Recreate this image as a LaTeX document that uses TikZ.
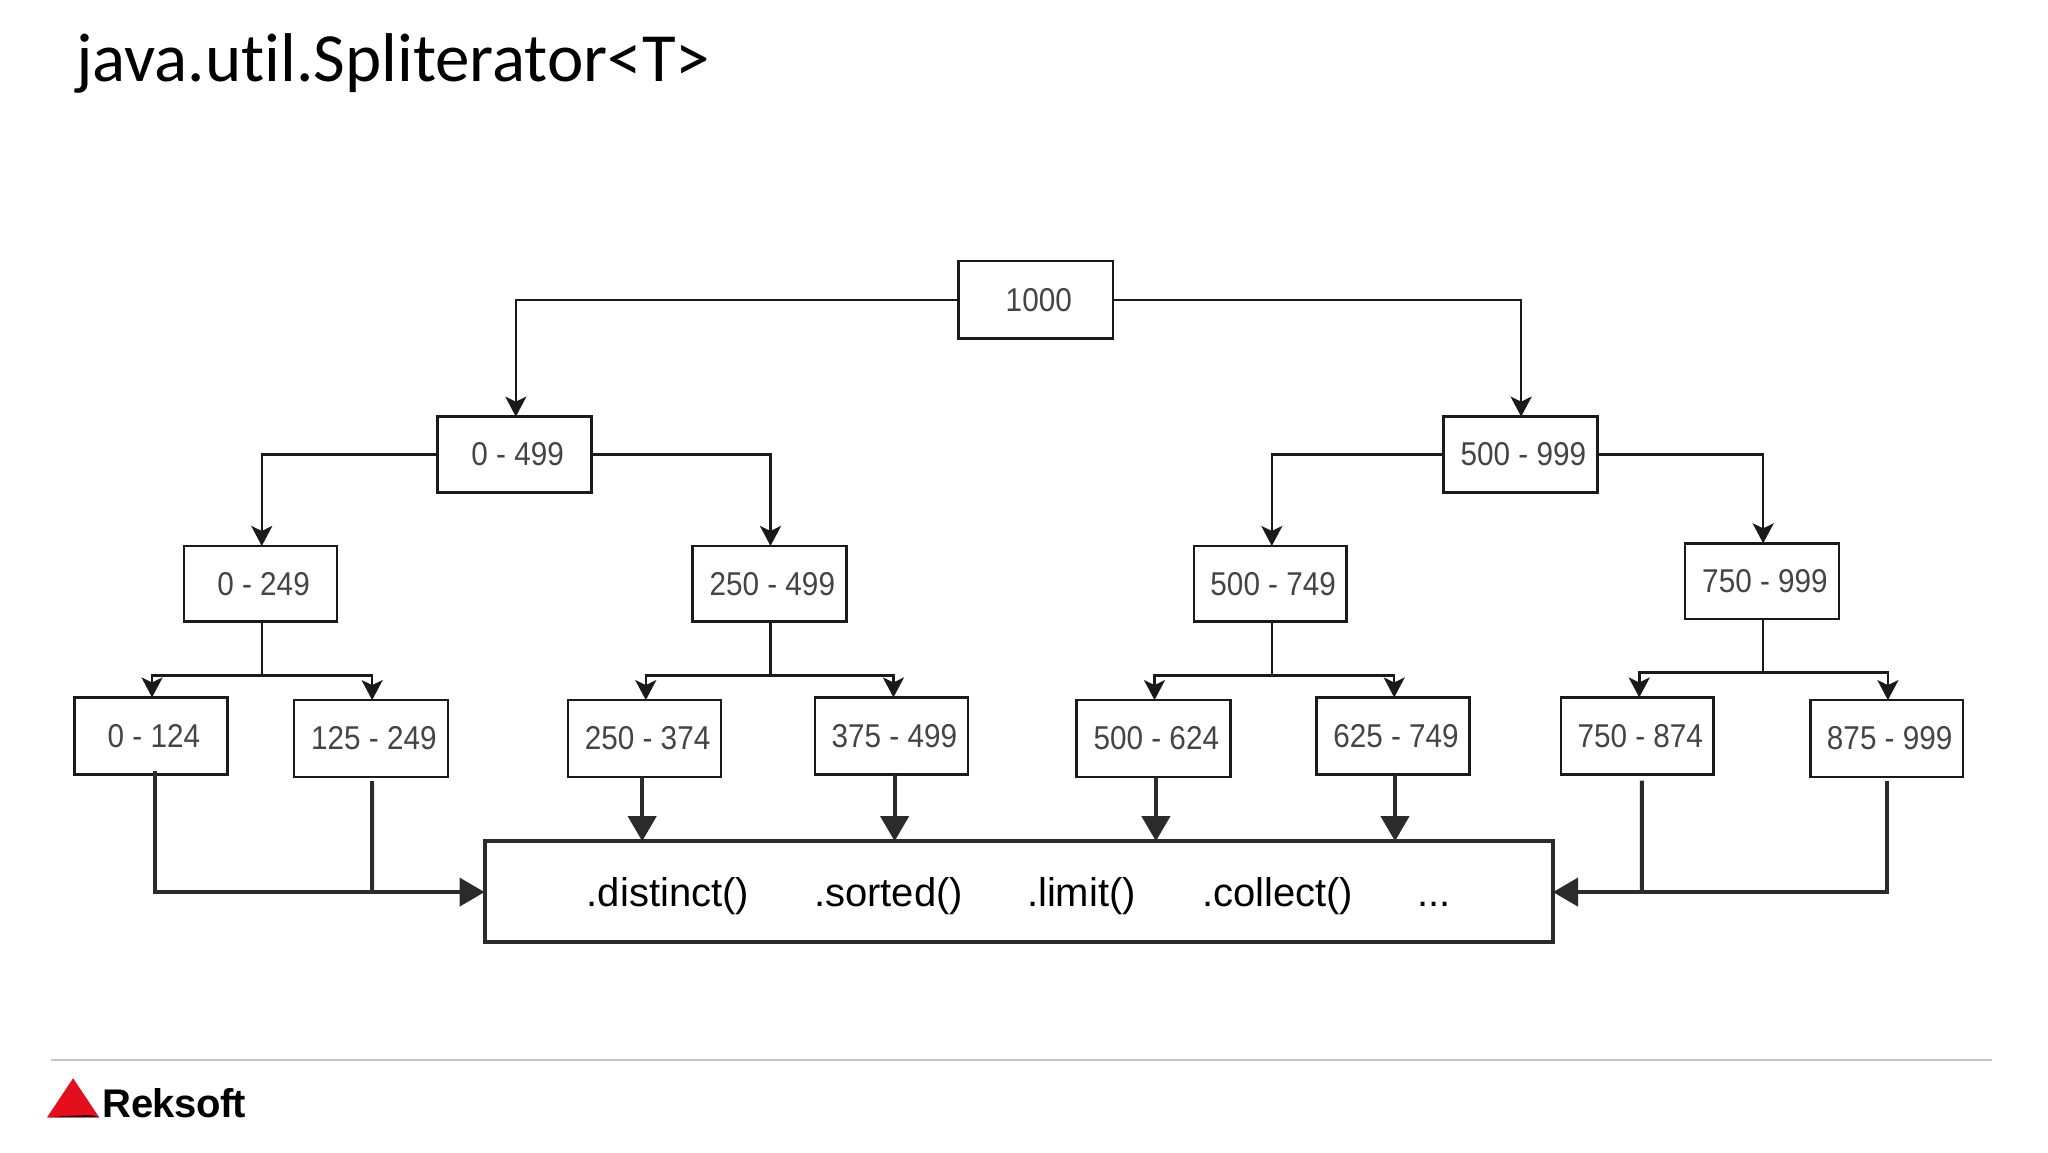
\documentclass[tikz,border=0pt]{standalone}
\usepackage{fontspec}
\setmainfont{Liberation Sans}
\newfontfamily\titlefont[Ligatures=NoCommon]{Carlito}
\newfontfamily\labfont[FakeStretch=0.9]{Liberation Sans}
\newfontfamily\logofont[LetterSpace=-1.5]{Liberation Sans Bold}
\usetikzlibrary{arrows.meta,positioning,calc}
\definecolor{inkthin}{HTML}{1A1A1A}
\definecolor{inkthick}{HTML}{2B2B2B}
\definecolor{labelgray}{HTML}{444444}
\definecolor{rulegray}{HTML}{C4C4C4}
\definecolor{logored}{HTML}{E30F1E}
\def\un{0.65306pt}
\tikzset{
  x=\un, y=-\un,
  rangebox/.style={draw=inkthin,line width=1.25pt,fill=white,inner sep=0pt,outer sep=0pt,
    font=\labfont\fontsize{16.5}{20}\selectfont,text=labelgray},
  thinconn/.style={draw=inkthin,line width=1.25pt,-{Stealth[length=10pt,width=10.5pt,inset=2.5pt]}},
  thinline/.style={draw=inkthin,line width=1.25pt},
  thickconn/.style={draw=inkthick,line width=2pt,-{Triangle[length=12.5pt,width=14pt]}},
  thickline/.style={draw=inkthick,line width=2pt},
  opbox/.style={draw=inkthick,line width=2pt,fill=white,inner sep=0pt,outer sep=0pt},
  optext/.style={anchor=base west,inner sep=0pt,font=\fontsize{20}{24}\selectfont,text=black},
}
\newcommand{\bx}[6]{\node[rangebox,minimum width={(#4-#2)*0.65306pt},minimum height={(#5-#3)*0.65306pt}] (#1) at ({(#2+#4)/2},{(#3+#5)/2}) {\hspace{3pt}\raisebox{-0.6pt}{#6}};}
\begin{document}
\begin{tikzpicture}
\path[fill=white,use as bounding box] (0,0) rectangle (1568,882);
\node[anchor=base west,inner sep=0pt,font=\titlefont\fontsize{34.5}{40}\selectfont,text=black] (title) at (58,62.5) {java.util.Spliterator<T>};

\bx{r}{734}{200}{852}{259}{1000}
\bx{a}{335}{319}{453}{377}{0 - 499}
\bx{b}{1105}{319}{1223}{377}{500 - 999}
\bx{aa}{141}{418}{258}{476}{0 - 249}
\bx{ab}{530}{418}{648}{476}{250 - 499}
\bx{ba}{914}{418}{1031}{476}{500 - 749}
\bx{bb}{1290}{416}{1408}{474}{750 - 999}
\bx{aaa}{57}{534}{174}{593}{0 - 124}
\bx{aab}{225}{536}{343}{595}{125 - 249}
\bx{aba}{435}{536}{552}{595}{250 - 374}
\bx{abb}{624}{534}{741}{593}{375 - 499}
\bx{baa}{824}{536}{942}{595}{500 - 624}
\bx{bab}{1008}{534}{1125}{593}{625 - 749}
\bx{bba}{1195}{534}{1312}{593}{750 - 874}
\bx{bbb}{1386}{536}{1503}{595}{875 - 999}
\node[opbox,minimum width={818*0.65306pt},minimum height={77*0.65306pt}] (ops) at (780,682.5) {};

\draw[thinconn] (r.west) -| ([xshift=0.6pt]a.north);
\draw[thinconn] (r.east) -| ([xshift=0.4pt]b.north);
\draw[thinconn] (a.west) -| ([xshift=0.6pt]aa.north);
\draw[thinconn] (a.east) -| ([xshift=0.6pt]ab.north);
\draw[thinconn] (b.west) -| ([xshift=0.8pt]ba.north);
\draw[thinconn] (b.east) -| ([xshift=0.6pt]bb.north);

\path ([xshift=0.6pt]aa.south) ++(0,41) coordinate (jaa);
\path ([xshift=0.6pt]ab.south) ++(0,41) coordinate (jab);
\path ([xshift=0.8pt]ba.south) ++(0,41) coordinate (jba);
\path ([xshift=0.6pt]bb.south) ++(0,41) coordinate (jbb);
\draw[thinline] ([xshift=0.6pt]aa.south) -- (jaa);
\draw[thinconn] (jaa) -| ([xshift=0.6pt]aaa.north);
\draw[thinconn] (jaa) -| ([xshift=0.6pt]aab.north);
\draw[thinline] ([xshift=0.6pt]ab.south) -- (jab);
\draw[thinconn] (jab) -| ([xshift=0.6pt]aba.north);
\draw[thinconn] (jab) -| ([xshift=1pt]abb.north);
\draw[thinline] ([xshift=0.8pt]ba.south) -- (jba);
\draw[thinconn] (jba) -| ([xshift=0.6pt]baa.north);
\draw[thinconn] (jba) -| ([xshift=0.6pt]bab.north);
\draw[thinline] ([xshift=0.6pt]bb.south) -- (jbb);
\draw[thinconn] (jbb) -| ([xshift=1pt]bba.north);
\draw[thinconn] (jbb) -| ([xshift=0.6pt]bbb.north);

\coordinate (jl) at (285,683);
\coordinate (jr) at (1257,683);
\draw[thickline] ([xshift=2.3pt,yshift=2pt]aaa.south) |- (jl);
\draw[thickline] ([yshift=-2pt,xshift=0.6pt]aab.south) -- (jl);
\draw[thickconn] (jl) -- (jl -| ops.west);
\draw[thickconn] ([xshift=-1.2pt]aba.south) -- ([xshift=-1.2pt]aba.south |- ops.north);
\draw[thickconn] ([xshift=1.6pt]abb.south) -- ([xshift=1.6pt]abb.south |- ops.north);
\draw[thickconn] ([xshift=1.3pt]baa.south) -- ([xshift=1.3pt]baa.south |- ops.north);
\draw[thickconn] ([xshift=1pt]bab.south) -- ([xshift=1pt]bab.south |- ops.north);
\draw[thickline] ([xshift=2.3pt,yshift=-3pt]bba.south) -- (jr);
\draw[thickline] ([yshift=-2pt]bbb.south) |- (jr);
\draw[thickconn] (jr) -- (jr -| ops.east);

\node[optext] (t1) at (449,694) {.distinct()};
\node[optext] (t2) at (623,694) {.sorted()};
\node[optext] (t3) at (786,694) {.limit()};
\node[optext] (t4) at (920,694) {.collect()};
\node[optext] (t5) at (1085,694) {...};

\draw[rulegray,line width=1.2pt] (39,811.6) -- (1525,811.6);
\fill[logored] (36,855.5) -- (56,825.5) -- (76,855.5) -- cycle;
\fill[black!80!logored] (36,855.5) -- (52,854.3) -- (70,853.6) -- (76,855.5) -- cycle;
\node[anchor=base west,inner sep=0pt,font=\logofont\fontsize{20}{24}\selectfont,text=black] (logo) at (78.5,855.5) {Reksoft};
\end{tikzpicture}
\end{document}
